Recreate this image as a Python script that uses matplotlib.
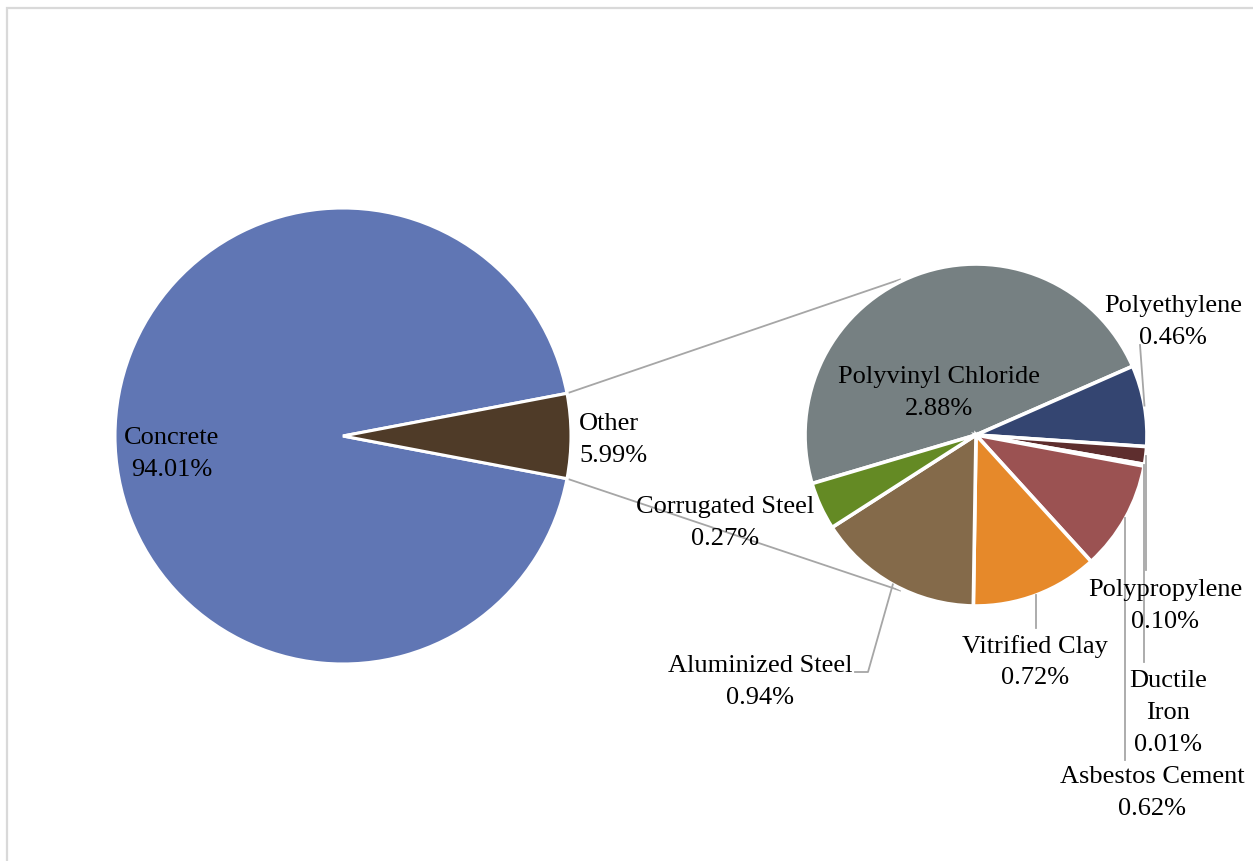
import numpy as np
import matplotlib.pyplot as plt

# pipe material shares (% of total length)
main_labels = ['Concrete', 'Other']
main_values = [94.01, 5.99]
main_colors = ['#6076B4', '#4F3B28']

other_labels = ['Polyvinyl Chloride', 'Polyethylene', 'Polypropylene', 'Ductile Iron',
                'Asbestos Cement', 'Vitrified Clay', 'Aluminized Steel', 'Corrugated Steel']
other_values = [2.88, 0.46, 0.10, 0.01, 0.62, 0.72, 0.94, 0.27]
other_colors = ['#768082', '#344571', '#5E2E2E', '#7A4A3A',
                '#9B5252', '#E6892A', '#846A4A', '#648A24']

W, H = 1253, 861
plt.rcParams['font.family'] = ['Liberation Serif', 'DejaVu Serif']

def Y(y):
    # pixel rows run downward, axes y runs up
    return H - y

fig = plt.figure(figsize=(W / 100, H / 100), dpi=100)
ax = fig.add_axes([0, 0, 1, 1])

# left pie: the small "Other" slice is centred on the 3 o'clock direction
c1, r1 = (343, Y(436)), 228
start1 = main_values[1] / sum(main_values) * 360 / 2
ax.pie(main_values, colors=main_colors, center=c1, radius=r1, startangle=start1,
       counterclock=True, wedgeprops=dict(edgecolor='white', linewidth=2.2))

# right pie breaks down the "Other" slice
c2, r2 = (976, Y(435)), 171
start2 = 196.5
ax.pie(other_values, colors=other_colors, center=c2, radius=r2, startangle=start2,
       counterclock=False, wedgeprops=dict(edgecolor='white', linewidth=2.6))

def on_circle(c, r, ang):
    a = np.deg2rad(ang)
    return c[0] + r * np.cos(a), c[1] + r * np.sin(a)

# connector lines from the edges of "Other" to the second pie
for sgn in (1, -1):
    p0 = on_circle(c1, r1, sgn * start1)
    p1 = on_circle(c2, r2 + 2, sgn * 116)
    ax.plot([p0[0], p1[0]], [p0[1], p1[1]], color='#A6A6A6', lw=1.3, zorder=0.5)

# mid angle of each slice in the second pie
spans = np.array(other_values) / sum(other_values) * 360
ends = start2 - np.cumsum(spans)
mids = ends + spans / 2

lead = '#A6A6A6'
fs = 19
ls = 1.56

# main pie labels
ax.text(172, Y(454), f"{main_labels[0]}\n{main_values[0]:.2f}%", ha='center', va='center',
        fontsize=fs, linespacing=ls)
ax.text(579, Y(440), f"{main_labels[1]}\n{main_values[1]:.2f}%", ha='left', va='center',
        fontsize=fs, linespacing=ls)

# label centres for the second pie (pixel positions)
label_pos = {
    'Polyvinyl Chloride': (939, 393),
    'Polyethylene': (1173, 322),
    'Polypropylene': (1165, 606),
    'Ductile Iron': (1168, 713),
    'Asbestos Cement': (1152, 793),
    'Vitrified Clay': (1035, 662),
    'Aluminized Steel': (760, 682),
    'Corrugated Steel': (725, 523),
}
for lab, val in zip(other_labels, other_values):
    name = 'Ductile\nIron' if lab == 'Ductile Iron' else lab
    x, y = label_pos[lab]
    ax.text(x, Y(y), f"{name}\n{val:.2f}%", ha='center', va='center',
            fontsize=fs, linespacing=ls, zorder=5)

# leader lines, starting at the outer edge of each slice
def leader(lab, pts):
    i = other_labels.index(lab)
    x0, y0 = on_circle(c2, r2, mids[i])
    xs = [x0] + [p[0] if p[0] is not None else x0 for p in pts]
    ys = [y0] + [Y(p[1]) for p in pts]
    ax.plot(xs, ys, color=lead, lw=1.3, zorder=4)

leader('Polyethylene', [(1140, 345)])
leader('Polypropylene', [(None, 570)])
leader('Ductile Iron', [(None, 662)])
leader('Asbestos Cement', [(None, 760)])
leader('Vitrified Clay', [(None, 628)])
leader('Aluminized Steel', [(868, 672), (855, 672)])

# chart area border
ax.plot([7, 7, W + 5], [Y(H + 5), Y(8), Y(8)], color='#D9D9D9', lw=1.6,
        solid_joinstyle='miter')

ax.set_xlim(0, W)
ax.set_ylim(0, H)
ax.set_axis_off()

fig.savefig('out.png', dpi=100)
